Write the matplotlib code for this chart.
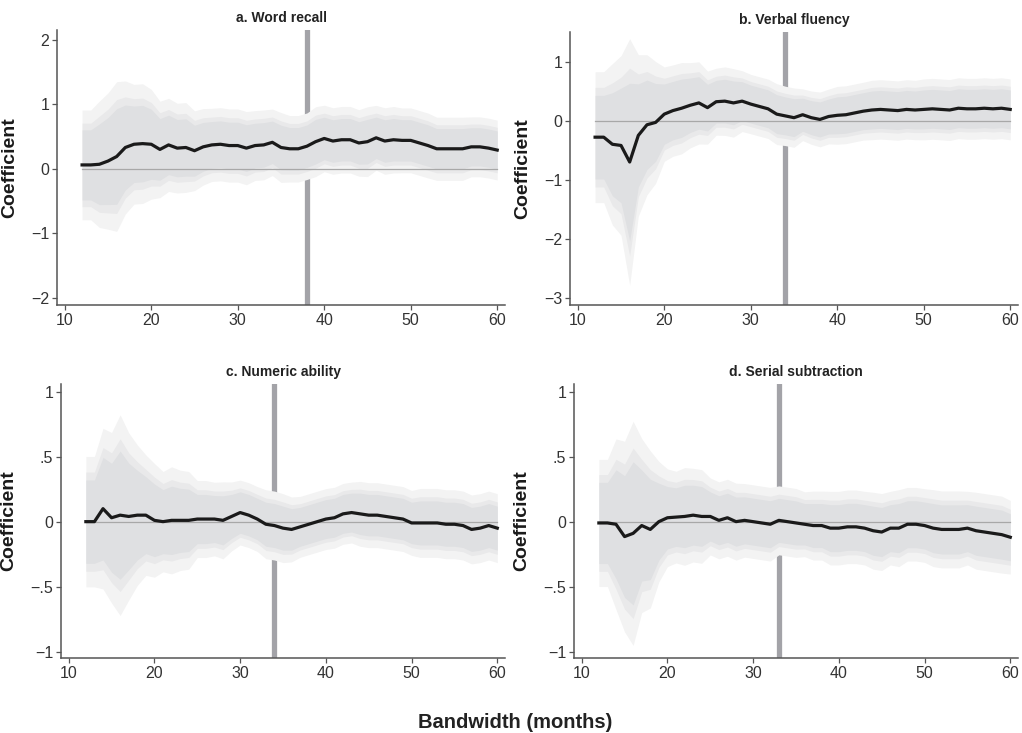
import numpy as np
import matplotlib
matplotlib.use("Agg")
import matplotlib.pyplot as plt

plt.rcParams["font.family"] = ["Liberation Sans", "DejaVu Sans"]

# bandwidths (months)
bandwidth = list(range(12, 61))

# a. Word recall
coef_a = [0.06, 0.06, 0.07, 0.12, 0.19, 0.33, 0.38, 0.39, 0.38, 0.30,
          0.37, 0.32, 0.33, 0.28, 0.34, 0.37, 0.38, 0.36, 0.36, 0.32,
          0.36, 0.37, 0.41, 0.33, 0.31, 0.31, 0.35, 0.42, 0.47, 0.43,
          0.45, 0.45, 0.40, 0.42, 0.48, 0.43, 0.45, 0.44, 0.44, 0.40,
          0.36, 0.31, 0.31, 0.31, 0.31, 0.34, 0.34, 0.32, 0.29]
se_a = [0.33, 0.33, 0.38, 0.41, 0.45, 0.40, 0.36, 0.36, 0.33, 0.29,
        0.28, 0.27, 0.27, 0.24, 0.23, 0.22, 0.22, 0.22, 0.22, 0.22,
        0.21, 0.21, 0.20, 0.21, 0.20, 0.20, 0.20, 0.21, 0.20, 0.20,
        0.20, 0.20, 0.20, 0.21, 0.195, 0.20, 0.20, 0.195, 0.195, 0.195,
        0.195, 0.19, 0.19, 0.19, 0.19, 0.18, 0.18, 0.18, 0.18]

# b. Verbal fluency
coef_b = [-0.28, -0.28, -0.40, -0.42, -0.70, -0.25, -0.07, -0.03, 0.11, 0.17,
          0.21, 0.26, 0.30, 0.22, 0.32, 0.33, 0.30, 0.33, 0.28, 0.24,
          0.20, 0.11, 0.08, 0.05, 0.10, 0.05, 0.02, 0.07, 0.09, 0.10,
          0.13, 0.16, 0.18, 0.19, 0.18, 0.17, 0.19, 0.18, 0.19, 0.20,
          0.19, 0.18, 0.21, 0.20, 0.20, 0.21, 0.20, 0.21, 0.19]
se_b = [0.43, 0.43, 0.53, 0.59, 0.81, 0.53, 0.46, 0.40, 0.31, 0.30,
        0.30, 0.28, 0.27, 0.24, 0.22, 0.225, 0.225, 0.20, 0.195, 0.195,
        0.195, 0.20, 0.195, 0.195, 0.17, 0.175, 0.18, 0.18, 0.19, 0.19,
        0.19, 0.19, 0.195, 0.195, 0.195, 0.195, 0.195, 0.195, 0.20, 0.20,
        0.20, 0.20, 0.20, 0.20, 0.20, 0.20, 0.20, 0.20, 0.20]

# c. Numeric ability
coef_c = [0.00, 0.00, 0.10, 0.03, 0.05, 0.04, 0.05, 0.05, 0.01, 0.00,
          0.01, 0.01, 0.01, 0.02, 0.02, 0.02, 0.01, 0.04, 0.07, 0.05,
          0.02, -0.02, -0.03, -0.05, -0.06, -0.04, -0.02, 0.00, 0.02, 0.03,
          0.06, 0.07, 0.06, 0.05, 0.05, 0.04, 0.03, 0.02, -0.01, -0.01,
          -0.01, -0.01, -0.02, -0.02, -0.03, -0.06, -0.05, -0.03, -0.05]
se_c = [0.195, 0.195, 0.24, 0.255, 0.30, 0.25, 0.21, 0.18, 0.17, 0.15,
        0.16, 0.15, 0.146, 0.115, 0.115, 0.11, 0.115, 0.103, 0.097, 0.097,
        0.097, 0.103, 0.103, 0.103, 0.097, 0.091, 0.091, 0.091, 0.091, 0.091,
        0.091, 0.091, 0.097, 0.097, 0.097, 0.097, 0.097, 0.097, 0.097, 0.103,
        0.103, 0.103, 0.103, 0.103, 0.103, 0.103, 0.103, 0.103, 0.103]

# d. Serial subtraction
coef_d = [-0.01, -0.01, -0.02, -0.115, -0.09, -0.03, -0.06, 0.00, 0.03, 0.035,
          0.04, 0.05, 0.04, 0.04, 0.01, 0.03, 0.00, 0.01, 0.00, -0.01,
          -0.02, 0.01, 0.00, -0.01, -0.02, -0.03, -0.03, -0.05, -0.05, -0.04,
          -0.04, -0.05, -0.07, -0.08, -0.05, -0.05, -0.02, -0.02, -0.03, -0.05,
          -0.06, -0.06, -0.06, -0.05, -0.07, -0.08, -0.09, -0.10, -0.12]
se_d = [0.19, 0.19, 0.255, 0.285, 0.335, 0.26, 0.235, 0.18, 0.146, 0.137,
        0.146, 0.14, 0.14, 0.115, 0.115, 0.115, 0.115, 0.11, 0.11, 0.11,
        0.11, 0.103, 0.103, 0.103, 0.097, 0.103, 0.103, 0.11, 0.11, 0.11,
        0.11, 0.11, 0.115, 0.115, 0.11, 0.115, 0.11, 0.11, 0.11, 0.115,
        0.115, 0.115, 0.115, 0.11, 0.115, 0.115, 0.115, 0.115, 0.11]

titles = ["a. Word recall", "b. Verbal fluency", "c. Numeric ability", "d. Serial subtraction"]
chosen_bw = [38, 34, 34, 33]
ylims = [(-2.11, 2.15), (-3.12, 1.5), (-1.05, 1.06), (-1.05, 1.06)]
yticks = [[-2, -1, 0, 1, 2], [-3, -2, -1, 0, 1], [-1, -0.5, 0, 0.5, 1], [-1, -0.5, 0, 0.5, 1]]
yticklabels = [["\u22122", "\u22121", "0", "1", "2"],
               ["\u22123", "\u22122", "\u22121", "0", "1"],
               ["\u22121", "\u2212.5", "0", ".5", "1"],
               ["\u22121", "\u2212.5", "0", ".5", "1"]]
coefs = [coef_a, coef_b, coef_c, coef_d]
ses = [se_a, se_b, se_c, se_d]

# axes boxes in pixels (left, top, right, bottom)
W, H = 1022, 733
boxes = [(57, 30, 505, 305), (570, 32, 1018, 305), (61, 384, 505, 658), (574, 384, 1018, 658)]
label_x = [-0.087, -0.087, -0.099, -0.098]

# 99 / 95 / 90 % bands, lightest first
bands = [(2.576, "#f3f3f3"), (1.96, "#e9e9ea"), (1.645, "#dfe0e2")]
AX_COL = "#555555"

fig = plt.figure(figsize=(W / 100, H / 100), dpi=100)
x = np.array(bandwidth)
for i in range(4):
    l, t, r, b = boxes[i]
    ax = fig.add_axes([l / W, 1 - b / H, (r - l) / W, (b - t) / H])
    c = np.array(coefs[i])
    s = np.array(ses[i])
    ax.axvline(chosen_bw[i], color="#a3a3a8", lw=3.8, zorder=1)
    for z, col in bands:
        ax.fill_between(x, c - z * s, c + z * s, color=col, lw=0, zorder=2)
    ax.plot(x, np.zeros_like(x, dtype=float), color="#a8a8a8", lw=0.9, zorder=3)
    ax.plot(x, c, color="#1a1a1a", lw=2.3, zorder=4)
    ax.set_xlim(9.1, 60.9)
    ax.set_ylim(*ylims[i])
    ax.set_xticks([10, 20, 30, 40, 50, 60])
    ax.set_yticks(yticks[i])
    ax.set_yticklabels(yticklabels[i])
    for side in ["top", "right"]:
        ax.spines[side].set_visible(False)
    for side in ["left", "bottom"]:
        ax.spines[side].set_color(AX_COL)
        ax.spines[side].set_linewidth(1.1)
    ax.tick_params(direction="out", length=3.5, width=0.9, color=AX_COL,
                   labelcolor="#333333", labelsize=11.5, pad=2)
    ax.set_title(titles[i], fontsize=10, fontweight="bold", color="#222222", pad=6)
    ax.set_ylabel("Coefficient", fontsize=14, fontweight="bold", color="#1a1a1a")
    ax.yaxis.set_label_coords(label_x[i], 0.5)

fig.text(515 / W, 1 - 722 / H, "Bandwidth (months)", ha="center", va="center",
         fontsize=14.5, fontweight="bold", color="#222222")
fig.savefig("out.png", dpi=100)
